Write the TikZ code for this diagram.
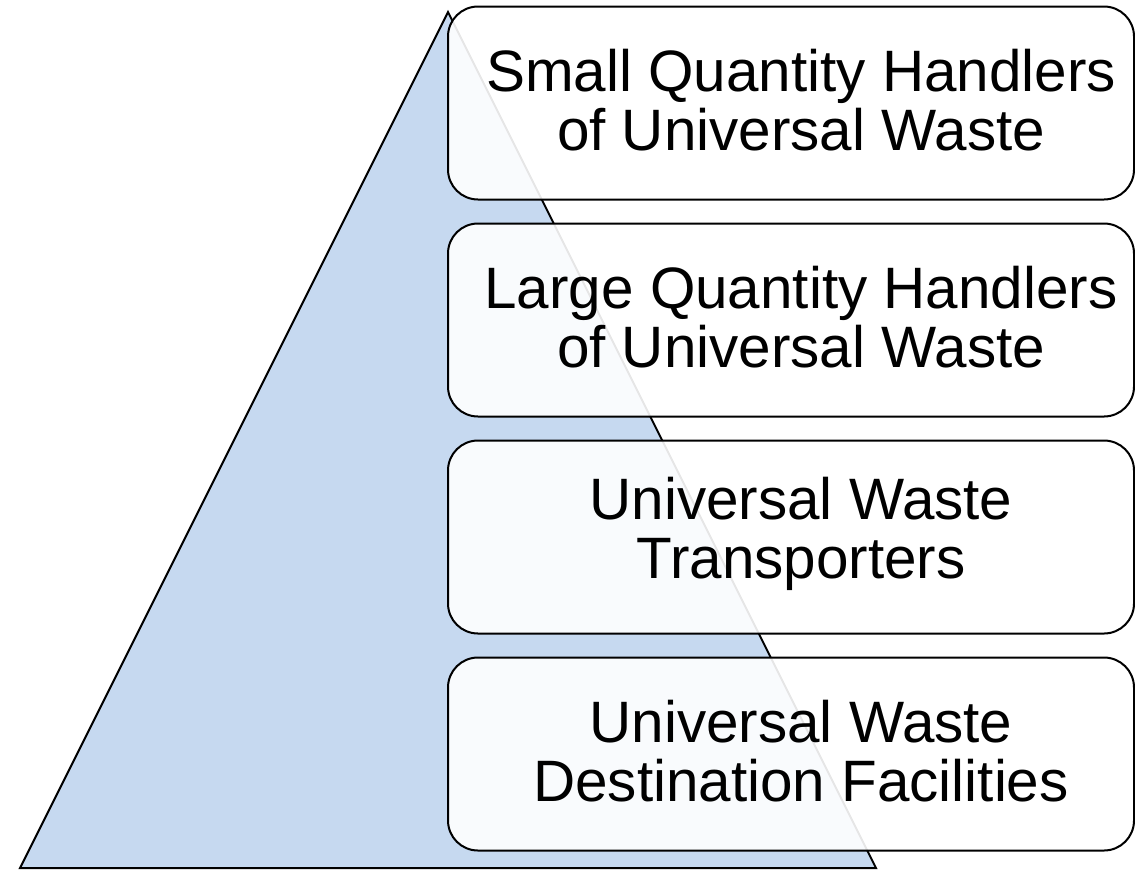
\documentclass[tikz,border=0pt]{standalone}
\usepackage{fontspec}
\setmainfont{Liberation Sans}
\definecolor{triblue}{RGB}{198,217,240}
\tikzset{
  tier/.style={draw=black,line width=1pt,rounded corners=15pt,fill=white,fill opacity=0.9,
    minimum width=343pt,minimum height=96.5pt},
  tiertext/.style={align=center,font=\fontsize{29.2}{29.4}\selectfont,xshift=5pt,yshift=1.5pt}
}
\begin{document}
\begin{tikzpicture}[x=0.5pt,y=-0.5pt]
        \useasboundingbox (0,0) rectangle (1135,869);
        \draw[line width=1pt,fill=triblue] (448,12)--(20,868)--(876,868)--cycle;
        \node[tier] (small) at (791,103) {};
        \node[tier] (large) at (791,320) {};
        \node[tier] (transp) at (791,537) {};
        \node[tier] (dest) at (791,754) {};
        \node[tiertext] (smalltxt) at (small.center) {Small Quantity Handlers\\of Universal Waste};
        \node[tiertext] (largetxt) at (large.center) {Large Quantity Handlers\\of Universal Waste};
        \node[tiertext] (transptxt) at (transp.center) {Universal Waste\\Transporters};
        \node[tiertext] (desttxt) at (dest.center) {Universal Waste\\Destination Facilities};
\end{tikzpicture}
\end{document}
